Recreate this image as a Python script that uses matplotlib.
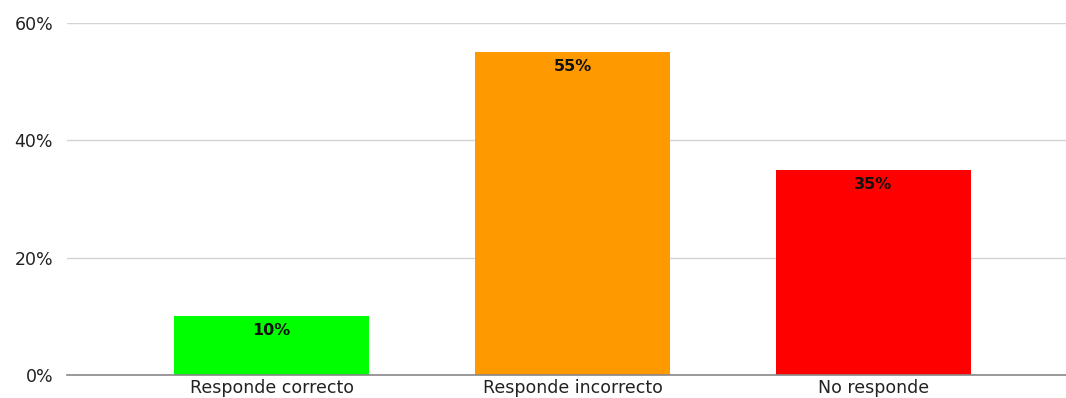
import matplotlib
matplotlib.use("Agg")
import matplotlib.pyplot as plt

categories = ["Responde correcto", "Responde incorrecto", "No responde"]
values = [10, 55, 35]
bar_colors = ["#00ff00", "#ff9900", "#ff0000"]
y_ticks = [0, 20, 40, 60]

plt.rcParams["font.family"] = ["DejaVu Sans"]

fig = plt.figure(figsize=(10.66, 3.98), dpi=100)
ax = fig.add_axes([67 / 1066, 1 - 375 / 398, 1 - 67 / 1066, (375 - 23) / 398])

x = list(range(len(categories)))
bars = ax.bar(x, values, width=0.65, color=bar_colors, zorder=3)

for xi, v in zip(x, values):
    ax.annotate(f"{v}%", xy=(xi, v), xytext=(0, -10.5), textcoords="offset points",
                ha="center", va="center", fontsize=11.5, fontweight="bold",
                color="#111111", zorder=4)

ax.set_xlim(-0.68, 2.64)
ax.set_ylim(0, 60)
ax.set_yticks(y_ticks)
ax.set_yticklabels([f"{t}%" for t in y_ticks], fontsize=12.5, color="#222222")
ax.set_xticks(x)
ax.set_xticklabels(categories, fontsize=12.5, color="#222222")

ax.grid(axis="y", color="#d4d4d4", linewidth=1, zorder=0)
for side in ["top", "right", "left"]:
    ax.spines[side].set_visible(False)
ax.spines["bottom"].set_color("#888888")
ax.spines["bottom"].set_linewidth(1.2)
ax.spines["bottom"].set_zorder(5)
ax.tick_params(axis="both", length=0)
ax.tick_params(axis="y", pad=10)
ax.tick_params(axis="x", pad=3)

fig.savefig("out.png", dpi=100)
